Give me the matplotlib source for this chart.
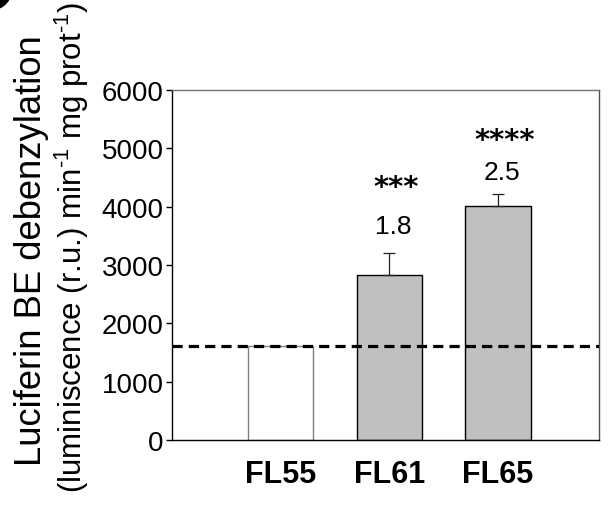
import matplotlib
matplotlib.use("Agg")
import matplotlib.pyplot as plt
from matplotlib.patches import Circle

plt.rcParams['font.family'] = ['Liberation Sans', 'DejaVu Sans']
plt.rcParams['mathtext.fontset'] = 'custom'
plt.rcParams['mathtext.rm'] = 'Liberation Sans'
plt.rcParams['mathtext.it'] = 'Liberation Sans'
plt.rcParams['mathtext.default'] = 'regular'

# data
strains = ["FL55", "FL61", "FL65"]
activity = [1610, 2830, 4010]
errors = [0, 375, 205]
fold = ["", "1.8", "2.5"]
fold_y = [0, 3670, 4600]
stars = ["", "***", "****"]
stars_y = [0, 4330, 5150]
bar_colors = ["white", "#c0c0c0", "#c0c0c0"]
edge_colors = ["#808080", "black", "black"]
baseline = 1610

fig = plt.figure(figsize=(6.1, 5.06), dpi=100)
ax = fig.add_axes([0.282, 0.1285, 0.700, 0.6915])

x = [1, 2, 3]
ax.bar(x, activity, width=0.6, color=bar_colors, edgecolor=edge_colors, linewidth=1.0, zorder=2)
for xi, v, e in zip(x, activity, errors):
    if e > 0:
        ax.errorbar(xi, v, yerr=[[0], [e]], fmt="none", ecolor="#202020",
                    elinewidth=0.9, capsize=4, capthick=0.9, zorder=3)

ax.axhline(baseline, color="black", linewidth=2.3, dashes=(3.2, 1.9), zorder=4)

# fold change and significance labels
for xi, f, fy, s, sy in zip(x, fold, fold_y, stars, stars_y):
    if f:
        ax.text(xi + 0.04, fy, f, ha="center", va="center", fontsize=19)
    if s:
        ax.text(xi + 0.06, sy, s, ha="center", va="center", fontsize=21,
                fontweight="bold", family="DejaVu Sans")

ax.set_xlim(0, 3.93)
ax.set_ylim(0, 6000)
ax.set_yticks(range(0, 6001, 1000))
ax.tick_params(axis="y", labelsize=20, length=4, width=1, direction="out", pad=2)
ax.set_xticks(x)
ax.set_xticklabels(strains, fontsize=22, fontweight="bold")
ax.tick_params(axis="x", length=0, pad=14)

ax.spines["left"].set_color("black")
ax.spines["bottom"].set_color("black")
ax.spines["top"].set_color("#707070")
ax.spines["right"].set_color("#505050")
for sp in ax.spines.values():
    sp.set_linewidth(1.0)

# two-line y label
fig.text(0.052, 0.505, "Luciferin BE debenzylation", rotation=90, ha="center", va="center", fontsize=26.2)
fig.text(0.117, 0.51, r"(luminiscence (r.u.) min$^{\text{-1}}$ mg prot$^{\text{-1}}$)", rotation=90,
         ha="center", va="center", fontsize=22.5)

# cut-off panel marker in the corner
fig.patches.append(Circle((-0.02, 1.015), 0.038, transform=fig.transFigure, color="black", figure=fig))

fig.savefig("out.png", dpi=100)
